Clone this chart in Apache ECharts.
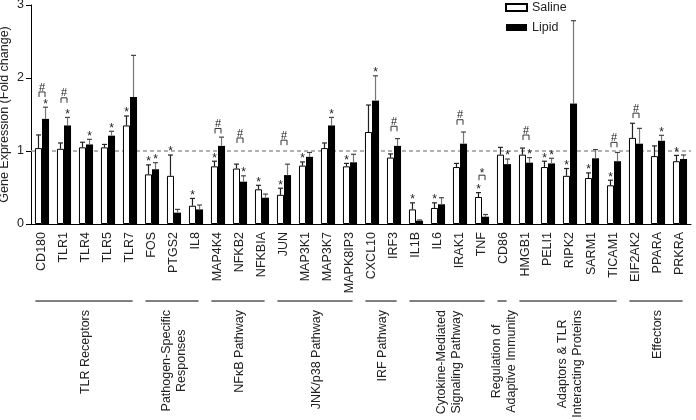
<!DOCTYPE html>
<html><head><meta charset="utf-8">
<script src="https://cdn.jsdelivr.net/npm/echarts@6/dist/echarts.min.js"></script>
<style>html,body{margin:0;padding:0;background:#fff}#c{width:696px;height:420px}</style>
</head><body><div id="c"></div>
<script>
const categories = ['CD180','TLR1','TLR4','TLR5','TLR7','FOS','PTGS2','IL8','MAP4K4','NFKB2','NFKBIA','JUN','MAP3K1','MAP3K7','MAPK8IP3','CXCL10','IRF3','IL1B','IL6','IRAK1','TNF','CD86','HMGB1','PELI1','RIPK2','SARM1','TICAM1','EIF2AK2','PPARA','PRKRA'];
const salineMean = [1.04,1.03,1.05,1.05,1.35,0.68,0.66,0.25,0.79,0.76,0.475,0.40,0.80,1.04,0.79,1.26,0.91,0.20,0.22,0.78,0.37,0.95,0.95,0.78,0.66,0.63,0.53,1.18,0.93,0.86];
const salineSEM  = [0.18,0.08,0.07,0.04,0.13,0.13,0.285,0.10,0.07,0.06,0.055,0.09,0.05,0.07,0.04,0.37,0.05,0.09,0.07,0.05,0.06,0.10,0.09,0.08,0.10,0.07,0.07,0.20,0.14,0.08];
const lipidMean  = [1.44,1.35,1.09,1.21,1.74,0.75,0.155,0.20,1.07,0.58,0.36,0.67,0.92,1.35,0.845,1.69,1.07,0.045,0.27,1.10,0.10,0.82,0.84,0.83,1.65,0.90,0.86,1.10,1.14,0.89];
const lipidSEM   = [0.16,0.11,0.07,0.06,0.57,0.09,0.045,0.06,0.12,0.08,0.05,0.15,0.06,0.11,0.11,0.34,0.10,0.01,0.09,0.16,0.03,0.07,0.07,0.07,1.135,0.12,0.12,0.21,0.075,0.055];
const salineStar = [0,0,0,0,1,1,1,1,1,0,1,1,1,0,1,0,0,1,1,0,1,0,0,1,1,1,1,0,0,1];
const lipidStar  = [1,1,1,1,0,1,0,0,0,1,0,0,0,1,0,1,0,0,0,0,0,1,1,1,0,0,0,0,1,0];
const pairMark   = ['#','#','','','','','','','#','#','','#','','','','','#','','','#','*','','#','','','','#','#','',''];
const pairMarkLevel = [1.74,1.66,null,null,null,null,null,null,1.24,1.11,null,1.08,null,null,null,null,1.27,null,null,1.36,0.60,null,1.15,null,null,null,1.05,1.45,null,null];
const yTicks = [0,1,2,3];
const groupNames = ['TLR Receptors','Pathogen-Specific\nResponses','NFκB Pathway','JNK/p38 Pathway','IRF Pathway','Cytokine-Mediated\nSignaling Pathway','Regulation of\nAdaptive Immunity','Adaptors & TLR\nInteracting Proteins','Effectors'];
const groupFirst = ['CD180','FOS','MAP4K4','JUN','CXCL10','IL1B','CD86','HMGB1','EIF2AK2'];
const groupLast  = ['TLR7','IL8','NFKBIA','MAPK8IP3','IRF3','TNF','CD86','TICAM1','PRKRA'];
const referenceLevel = 1;

const FONT = '"Liberation Sans", Arial, sans-serif';
const BAR_FRAC = 0.32;
const measureCtx = document.createElement('canvas').getContext('2d');
function textW(t, size){ measureCtx.font = size + 'px ' + FONT; return measureCtx.measureText(t).width; }

const chart = echarts.init(document.getElementById('c'), null, {renderer:'canvas'});

const errData = categories.map((c,i)=>[i, salineMean[i], lipidMean[i], salineSEM[i], lipidSEM[i]]);
const annData = categories.map((c,i)=>[i, salineMean[i]+salineSEM[i], lipidMean[i]+lipidSEM[i], pairMarkLevel[i]==null? -1 : pairMarkLevel[i]]);
const groupData = groupNames.map((n,i)=>[categories.indexOf(groupFirst[i]), categories.indexOf(groupLast[i]), i]);

chart.setOption({
  animation: false,
  textStyle: {fontFamily: FONT},
  grid: {left: 31, right: 5, top: 5, bottom: 196, containLabel: false, outerBoundsMode: 'none'},
  legend: {
    orient: 'vertical', left: 500, top: -4, itemWidth: 21, itemHeight: 7, itemGap: 7,
    icon: 'rect', data: ['Saline','Lipid'],
    textStyle: {fontSize: 12.5, color: '#222', fontFamily: FONT}
  },
  xAxis: {
    type: 'category', data: categories,
    axisLine: {lineStyle: {color: '#000', width: 1}},
    axisTick: {alignWithLabel: true, length: 5, lineStyle: {color: '#000'}},
    axisLabel: {rotate: 90, interval: 0, margin: 8, fontSize: 12.5, color: '#222', fontFamily: FONT}
  },
  yAxis: {
    type: 'value', min: yTicks[0], max: yTicks[yTicks.length-1], interval: 1,
    name: 'Gene Expression (Fold change)', nameLocation: 'middle', nameGap: 20, nameMoveOverlap: false,
    nameTextStyle: {fontSize: 12.5, color: '#222', fontFamily: FONT},
    axisLine: {show: true, lineStyle: {color: '#000', width: 1}},
    axisTick: {show: true, length: 5, lineStyle: {color: '#000'}},
    axisLabel: {margin: 7, fontSize: 12.5, color: '#222', fontFamily: FONT},
    splitLine: {show: false}
  },
  series: [
    {
      type: 'bar', name: 'Saline', data: salineMean, barWidth: '32%', barGap: '0%', z: 3,
      itemStyle: {color: '#fff', borderColor: '#000', borderWidth: 1},
      markLine: {
        silent: true, symbol: 'none', z: 1, label: {show: false},
        lineStyle: {color: '#999', type: [4,3], width: 1.5},
        data: [{yAxis: referenceLevel}]
      }
    },
    {
      type: 'bar', name: 'Lipid', data: lipidMean, barWidth: '32%', barGap: '0%', z: 3,
      itemStyle: {color: '#000'}
    },
    {
      type: 'custom', name: 'errors', data: errData, z: 4, silent: true,
      renderItem: function(params, api){
        const i = api.value(0);
        const band = api.size([1,0])[0];
        const off = band*BAR_FRAC/2;
        const cx = api.coord([i,0])[0];
        const ch = [];
        [[-1, api.value(1), api.value(3), '#222', '#222'], [1, api.value(2), api.value(4), '#777', '#444']].forEach(function(s){
          const x = cx + s[0]*off;
          const top = api.coord([i, s[1]])[1];
          const et = api.coord([i, s[1]+s[2]])[1];
          ch.push({type:'line', shape:{x1:x, y1:top, x2:x, y2:et}, style:{stroke:s[3], lineWidth:1.2}});
          ch.push({type:'line', shape:{x1:x-2.5, y1:et, x2:x+2.5, y2:et}, style:{stroke:s[4], lineWidth:1.2}});
        });
        return {type:'group', children: ch};
      }
    },
    {
      type: 'custom', name: 'marks', data: annData, z: 5, silent: true, clip: false,
      renderItem: function(params, api){
        const i = api.value(0);
        const band = api.size([1,0])[0];
        const off = band*BAR_FRAC/2;
        const cx = api.coord([i,0])[0];
        const ch = [];
        if (salineStar[i]) {
          const et = api.coord([i, api.value(1)])[1];
          ch.push({type:'text', x: cx-off, y: et-3, style:{text:'*', font:'12px '+FONT, fill:'#222', align:'center', verticalAlign:'middle'}});
        }
        if (lipidStar[i]) {
          const et = api.coord([i, api.value(2)])[1];
          ch.push({type:'text', x: cx+off, y: et-3, style:{text:'*', font:'12px '+FONT, fill:'#222', align:'center', verticalAlign:'middle'}});
        }
        if (pairMark[i]) {
          const yb = api.coord([i, api.value(3)])[1];
          const yt = yb - 5;
          ch.push({type:'polyline', shape:{points:[[cx-3,yb],[cx-3,yt],[cx+3,yt],[cx+3,yb]]}, style:{stroke:'#333', lineWidth:1, fill:null}});
          const isStar = pairMark[i] === '*';
          ch.push({type:'text', x: cx, y: isStar ? yt-1.5 : yt-4.5, style:{text: pairMark[i], font: (isStar?'12px ':'11px ')+FONT, fill:'#222', align:'center', verticalAlign:'middle'}});
        }
        return {type:'group', children: ch};
      }
    },
    {
      type: 'custom', name: 'groups', data: groupData, z: 5, silent: true, clip: false,
      renderItem: function(params, api){
        const a = api.value(0), b = api.value(1), gi = api.value(2);
        const band = api.size([1,0])[0];
        const base = api.coord([a,0]);
        const x0 = base[0] - band*0.3;
        const x1 = api.coord([b,0])[0] + band*0.12;
        const yLine = base[1] + 77;
        const name = groupNames[gi];
        const lines = name.split('\n');
        const maxW = Math.max.apply(null, lines.map(l=>textW(l, 12.5)));
        const cxText = (api.coord([a,0])[0] + api.coord([b,0])[0])/2;
        return {type:'group', children:[
          {type:'line', shape:{x1:x0, y1:yLine, x2:x1, y2:yLine}, style:{stroke:'#000', lineWidth:1}},
          {type:'text', x: cxText, y: yLine + 9 + maxW/2, rotation: Math.PI/2,
            style:{text: name, font:'12.5px '+FONT, fill:'#222', align:'center', verticalAlign:'middle', lineHeight: 15}}
        ]};
      }
    }
  ]
});
</script>
</body></html>
